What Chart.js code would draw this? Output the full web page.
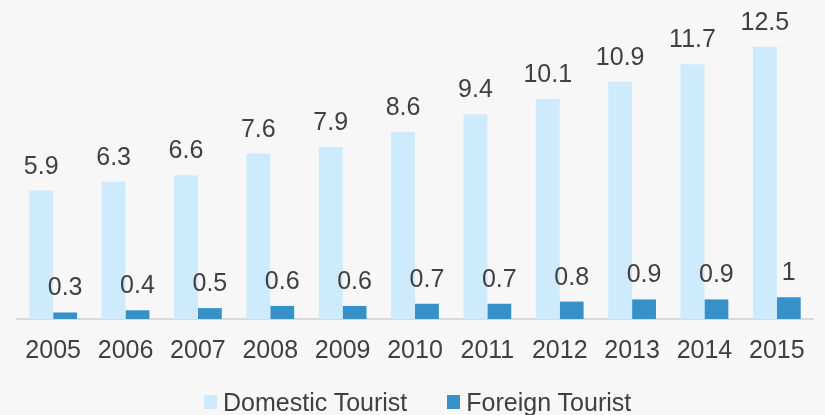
<!DOCTYPE html>
<html>
<head>
<meta charset="utf-8">
<script src="https://cdn.jsdelivr.net/npm/chart.js@4"></script>
<style>
    html, body { margin: 0; padding: 0; background: #f7f7f7; }
    #wrap { position: relative; width: 825px; height: 415px; }
    #legend {
        position: absolute; left: 204px; top: 388px; height: 28px;
        display: flex; align-items: center;
        font-family: "Liberation Sans", Arial, sans-serif; font-size: 25px; line-height: 28px; color: #404040;
    }
    #legend span.box { display: inline-block; width: 13px; height: 14px; margin-right: 6px; }
    #legend span.item { display: flex; align-items: center; margin-right: 40px; white-space: nowrap; }
</style>
</head>
<body>
<div id="wrap">
    <canvas id="chart" width="825" height="415"></canvas>
    <div id="legend"></div>
</div>
<script>
const years = ['2005', '2006', '2007', '2008', '2009', '2010', '2011', '2012', '2013', '2014', '2015'];
const domesticTourist = [5.9, 6.3, 6.6, 7.6, 7.9, 8.6, 9.4, 10.1, 10.9, 11.7, 12.5];
const foreignTourist = [0.3, 0.4, 0.5, 0.6, 0.6, 0.7, 0.7, 0.8, 0.9, 0.9, 1];

const FONT = '"Liberation Sans", Arial, sans-serif';
const TEXT_COLOR = '#404040';

// draws the value above each bar
const valueLabels = {
    id: 'valueLabels',
    afterDatasetsDraw(chart) {
        const ctx = chart.ctx;
        ctx.save();
        ctx.font = `25px ${FONT}`;
        ctx.fillStyle = TEXT_COLOR;
        ctx.textAlign = 'center';
        ctx.textBaseline = 'alphabetic';
        chart.data.datasets.forEach((ds, i) => {
            chart.getDatasetMeta(i).data.forEach((bar, j) => {
                ctx.fillText(String(ds.data[j]), bar.x, bar.y - 17);
            });
        });
        ctx.restore();
    }
};

const chart = new Chart(document.getElementById('chart'), {
    type: 'bar',
    data: {
        labels: years,
        datasets: [
            { label: 'Domestic Tourist', data: domesticTourist, backgroundColor: '#cdebfc' },
            { label: 'Foreign Tourist', data: foreignTourist, backgroundColor: '#3691c9' }
        ]
    },
    options: {
        responsive: false,
        animation: false,
        categoryPercentage: 0.66,
        barPercentage: 1,
        layout: { padding: { left: 17, right: 12, top: 10, bottom: 32 } },
        scales: {
            x: {
                grid: { display: false, drawTicks: false },
                border: { color: '#d9d9d9', width: 2 },
                ticks: { color: TEXT_COLOR, font: { family: FONT, size: 25 }, padding: 17 }
            },
            y: {
                display: false,
                min: 0,
                max: 14.19
            }
        },
        plugins: {
            tooltip: { enabled: false },
            legend: { display: false }
        }
    },
    plugins: [valueLabels]
});

// legend as plain html under the chart
const legendEl = document.getElementById('legend');
chart.data.datasets.forEach(ds => {
    const item = document.createElement('span');
    item.className = 'item';
    const box = document.createElement('span');
    box.className = 'box';
    box.style.background = ds.backgroundColor;
    item.appendChild(box);
    item.appendChild(document.createTextNode(ds.label));
    legendEl.appendChild(item);
});
</script>
</body>
</html>
